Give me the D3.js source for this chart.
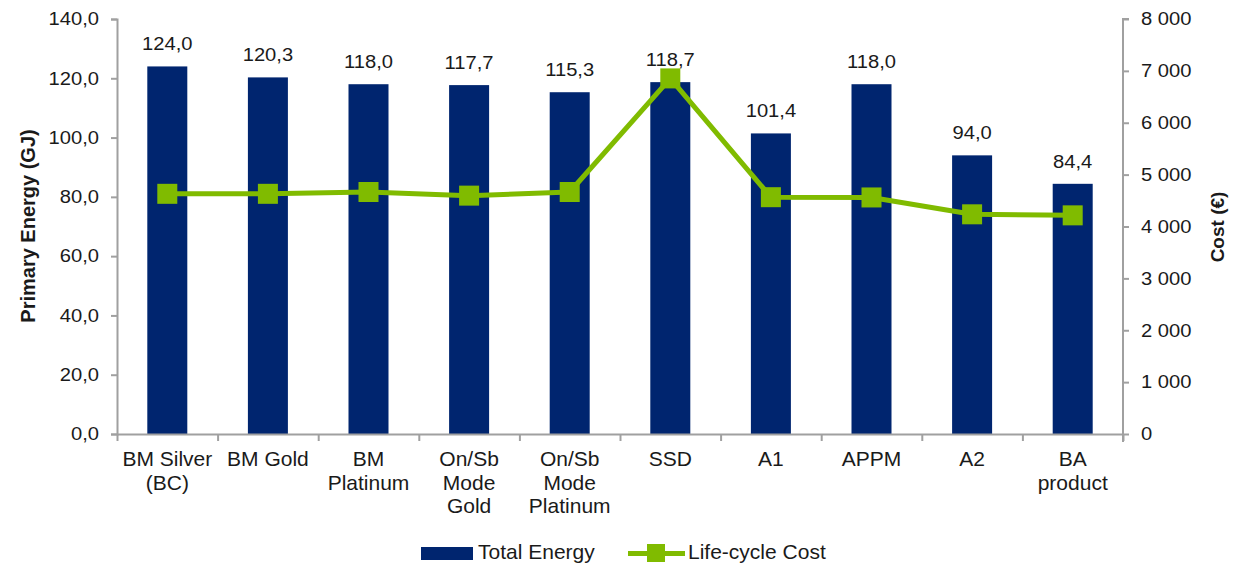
<!DOCTYPE html>
<html>
<head>
<meta charset="utf-8">
<script src="https://cdn.jsdelivr.net/npm/d3@7"></script>
<style>
  body { margin: 0; background: #fff; }
  text { font-family: "Liberation Sans", Arial, sans-serif; fill: #1a1a1a; }
</style>
</head>
<body>
<div id="chart"></div>
<script>
var categories = ["BM Silver\n(BC)", "BM Gold", "BM\nPlatinum", "On/Sb\nMode\nGold", "On/Sb\nMode\nPlatinum",
                  "SSD", "A1", "APPM", "A2", "BA\nproduct"];
var totalEnergy = [124.0, 120.3, 118.0, 117.7, 115.3, 118.7, 101.4, 118.0, 94.0, 84.4];
var lifeCycleCost = [4630, 4630, 4665, 4595, 4665, 6855, 4565, 4560, 4235, 4215];
var energyTicks = [0, 20, 40, 60, 80, 100, 120, 140];
var costTicks = [0, 1000, 2000, 3000, 4000, 5000, 6000, 7000, 8000];

var W = 1237, H = 564;
var margin = {top: 19, right: 114, bottom: 130, left: 117};
var w = W - margin.left - margin.right;
var h = H - margin.top - margin.bottom;

var barColor = "#00256f", lineColor = "#80bb00", axisColor = "#a0a0a0";

var svg = d3.select("#chart").append("svg")
  .attr("width", W).attr("height", H);
var g = svg.append("g").attr("transform", "translate(" + margin.left + "," + margin.top + ")");

var x = d3.scaleBand().domain(d3.range(categories.length)).range([0, w]).padding(0);
var yL = d3.scaleLinear().domain([0, 140]).range([h, 0]);
var yR = d3.scaleLinear().domain([0, 8000]).range([h, 0]);

var fmtComma = function(v){ return d3.format(".1f")(v).replace(".", ","); };
var fmtSpace = function(v){ return d3.format(",")(v).replace(/,/g, " "); };

// numbers in the reference are a bit wider than plain Arial
function stretch(sel, k){
  sel.each(function(){
    var len = this.getComputedTextLength();
    d3.select(this).attr("textLength", len * k).attr("lengthAdjust", "spacingAndGlyphs");
  });
}

// bars
g.selectAll(".bar").data(totalEnergy).enter().append("rect")
  .attr("class", "bar")
  .attr("x", function(d, i){ return x(i) + x.bandwidth()/2 - 20; })
  .attr("width", 40)
  .attr("y", function(d){ return yL(d); })
  .attr("height", function(d){ return h - yL(d); })
  .attr("fill", barColor);

var barLabels = g.selectAll(".barlabel").data(totalEnergy).enter().append("text")
  .attr("x", function(d, i){ return x(i) + x.bandwidth()/2; })
  .attr("y", function(d){ return yL(d) - 16; })
  .attr("text-anchor", "middle")
  .style("font-size", "18px")
  .text(fmtComma);
stretch(barLabels, 1.12);

// axes
var leftAxis = g.append("g")
  .call(d3.axisLeft(yL).tickValues(energyTicks).tickFormat(fmtComma).tickSize(6).tickPadding(12));
var rightAxis = g.append("g").attr("transform", "translate(" + w + ",0)")
  .call(d3.axisRight(yR).tickValues(costTicks).tickFormat(fmtSpace).tickSize(6).tickPadding(12));
var bottomAxis = g.append("g").attr("transform", "translate(0," + h + ")")
  .call(d3.axisBottom(d3.scaleLinear().domain([0, categories.length]).range([0, w]))
    .tickValues(d3.range(categories.length + 1)).tickFormat("").tickSize(7).tickSizeOuter(0));

[leftAxis, rightAxis, bottomAxis].forEach(function(a){
  a.selectAll("path, line").attr("stroke", axisColor).attr("stroke-width", 2);
  a.selectAll("text").style("font-size", "18px").attr("fill", "#1a1a1a")
    .style("font-family", "'Liberation Sans', Arial, sans-serif");
});
stretch(leftAxis.selectAll("text"), 1.12);
stretch(rightAxis.selectAll("text"), 1.12);
rightAxis.select(".domain").attr("d", "M6,0H0V" + (h + 8));

// category labels
g.selectAll(".cat").data(categories).enter().append("text")
  .attr("text-anchor", "middle")
  .attr("transform", function(d, i){ return "translate(" + (x(i) + x.bandwidth()/2) + "," + (h + 32) + ")"; })
  .style("font-size", "21px")
  .each(function(d){
    var t = d3.select(this);
    d.split("\n").forEach(function(line, k){
      t.append("tspan").attr("x", 0).attr("dy", k === 0 ? 0 : 23.5).text(line);
    });
  });

// line
var line = d3.line()
  .x(function(d, i){ return x(i) + x.bandwidth()/2; })
  .y(function(d){ return yR(d); });

g.append("path").datum(lifeCycleCost)
  .attr("d", line).attr("fill", "none")
  .attr("stroke", lineColor).attr("stroke-width", 5).attr("stroke-linejoin", "round");

g.selectAll(".mk").data(lifeCycleCost).enter().append("rect")
  .attr("x", function(d, i){ return x(i) + x.bandwidth()/2 - 10; })
  .attr("y", function(d){ return yR(d) - 10; })
  .attr("width", 20).attr("height", 20)
  .attr("fill", lineColor);

// axis titles
svg.append("text")
  .attr("transform", "translate(35,226) rotate(-90)")
  .attr("text-anchor", "middle")
  .style("font-size", "20px").style("font-weight", "bold")
  .text("Primary Energy (GJ)");
svg.append("text")
  .attr("transform", "translate(1224,227) rotate(-90)")
  .attr("text-anchor", "middle")
  .style("font-size", "19px").style("font-weight", "bold")
  .text("Cost (€)");

// legend
var leg = svg.append("g").attr("transform", "translate(0,559)");
leg.append("rect").attr("x", 421).attr("y", -12).attr("width", 52).attr("height", 13).attr("fill", barColor);
leg.append("text").attr("x", 478).attr("y", 0).style("font-size", "21px").text("Total Energy");
leg.append("line").attr("x1", 628).attr("x2", 685).attr("y1", -5.5).attr("y2", -5.5)
  .attr("stroke", lineColor).attr("stroke-width", 5);
leg.append("rect").attr("x", 647).attr("y", -15).attr("width", 18).attr("height", 18).attr("fill", lineColor);
leg.append("text").attr("x", 688).attr("y", 0).style("font-size", "21px").text("Life-cycle Cost");
</script>
</body>
</html>
